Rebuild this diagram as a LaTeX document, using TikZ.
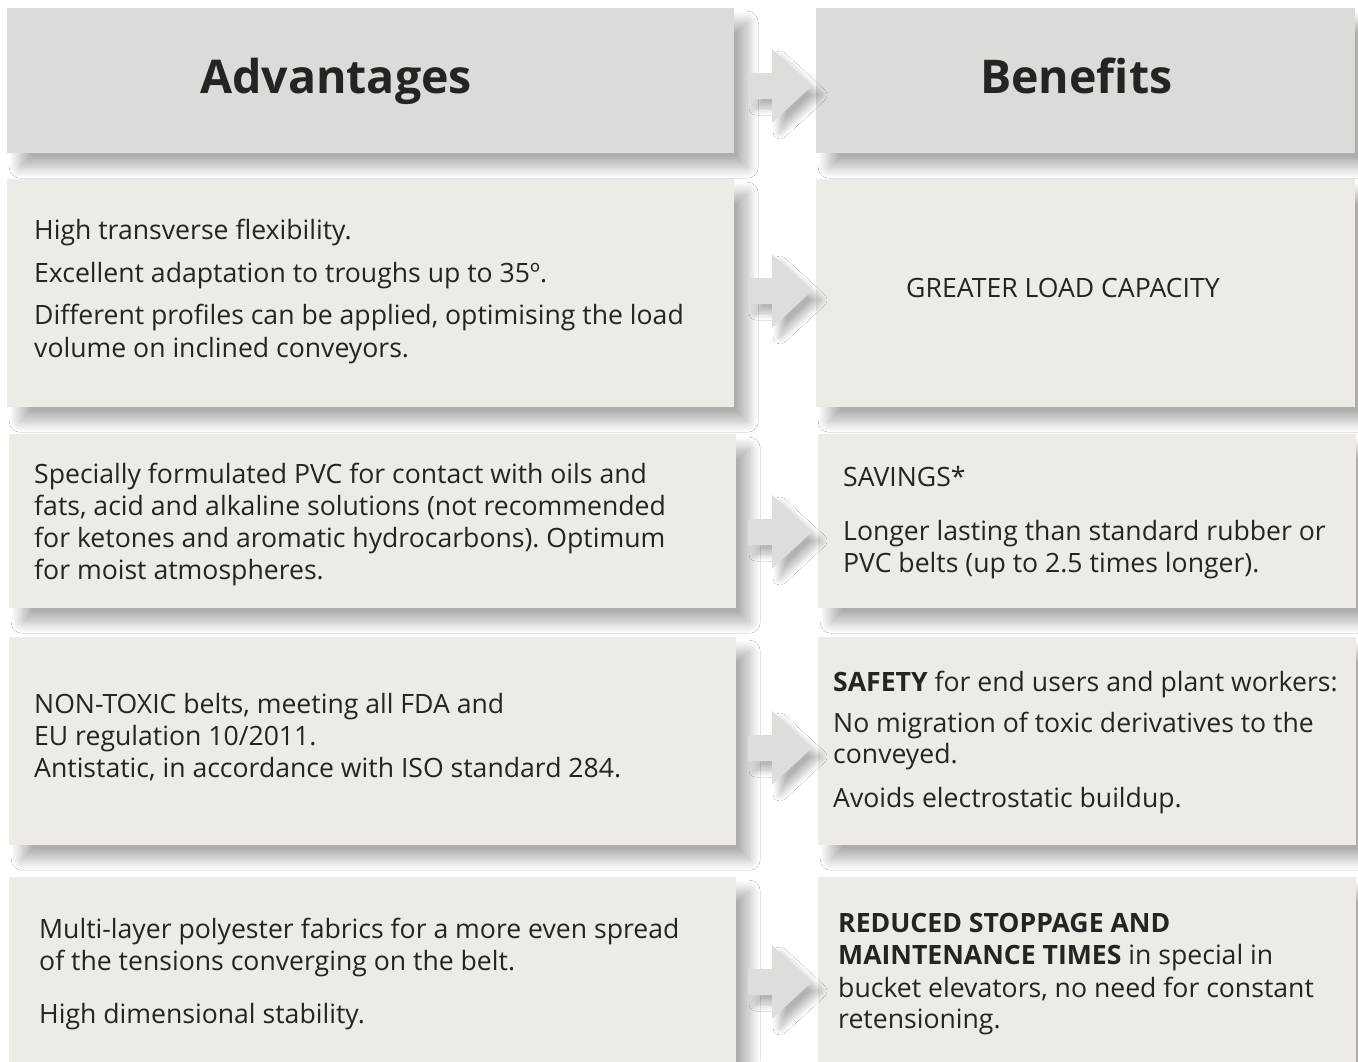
\documentclass[tikz,border=0pt]{standalone}
\usepackage{fontspec}
\setmainfont{Open Sans}
\frenchspacing
\usetikzlibrary{shadows.blur}
\definecolor{headfill}{HTML}{DCDBD8}
\definecolor{boxfill}{HTML}{EEEAE6}
\definecolor{arrfill}{HTML}{DEDDDA}
\definecolor{txt}{HTML}{262324}
\tikzset{
  softshadow/.style={blur shadow={shadow xshift=13pt,shadow yshift=-14pt,shadow blur radius=11pt,shadow blur steps=24,shadow opacity=32}},
  headbox/.style={rectangle,fill=headfill,draw=none,anchor=north west,inner sep=0,softshadow},
  infobox/.style={rectangle,fill=boxfill,draw=none,anchor=north west,inner sep=0,softshadow},
  arrowfill/.style={fill=arrfill,blur shadow={shadow xshift=8pt,shadow yshift=-9pt,shadow blur radius=7pt,shadow blur steps=18,shadow opacity=30}},
  line/.style={anchor=base west,inner sep=0,text=txt,font=\fontsize{26.6}{32}\selectfont},
  headtxt/.style={anchor=base west,inner sep=0,text=txt,font=\fontsize{46.5}{50}\selectfont\bfseries}
}
\newcommand\flowarrow[1]{\fill[arrowfill] (#1) ++(0,-13) -- ++(24,0) -- ++(0,-24) -- ++(40,37) -- ++(-40,37) -- ++(0,-24) -- ++(-24,0) -- cycle;}
\begin{document}
\begin{tikzpicture}[x=1pt,y=-1pt]
\useasboundingbox[fill=white] (0,0) rectangle (1358,1061);
% boxes
\node[headbox,minimum width=727pt,minimum height=145pt] (hL) at (7,8) {};
\node[headbox,minimum width=539pt,minimum height=145pt] (hR) at (816,8) {};
\node[infobox,minimum width=727pt,minimum height=228pt] (r1L) at (7,179) {};
\node[infobox,minimum width=539pt,minimum height=228pt] (r1R) at (816,179) {};
\node[infobox,minimum width=727pt,minimum height=174pt] (r2L) at (9,434) {};
\node[infobox,minimum width=538pt,minimum height=174pt] (r2R) at (818,434) {};
\node[infobox,minimum width=727pt,minimum height=208pt] (r3L) at (9,637) {};
\node[infobox,minimum width=538pt,minimum height=208pt] (r3R) at (818,637) {};
\node[infobox,minimum width=727pt,minimum height=200pt] (r4L) at (9,877) {};
\node[infobox,minimum width=538pt,minimum height=200pt] (r4R) at (818,877) {};
% arrows
\coordinate (a0) at (748,86);
\coordinate (a1) at (748,291);
\coordinate (a2) at (748,532);
\coordinate (a3) at (748,748);
\coordinate (a4) at (748,982);
\flowarrow{a0}
\flowarrow{a1}
\flowarrow{a2}
\flowarrow{a3}
\flowarrow{a4}
% headers
\node[headtxt] (tA) at (200,93) {Advantages};
\node[headtxt] (tB) at (980,93) {Benefits};
% row 1
\node[line] (l1a) at (34,239) {High transverse flexibility.};
\node[line] (l1b) at (34,282) {Excellent adaptation to troughs up to 35º.};
\node[line] (l1c) at (34,324) {Different profiles can be applied, optimising the load};
\node[line] (l1d) at (34,357) {volume on inclined conveyors.};
\node[line] (b1a) at (906,297) {GREATER LOAD CAPACITY};
% row 2
\node[line] (l2a) at (34,483) {Specially formulated PVC for contact with oils and};
\node[line] (l2b) at (34,515) {fats, acid and alkaline solutions (not recommended};
\node[line] (l2c) at (34,547) {for ketones and aromatic hydrocarbons). Optimum};
\node[line] (l2d) at (34,579) {for moist atmospheres.};
\node[line] (b2a) at (843,486) {SAVINGS*};
\node[line] (b2b) at (843,540) {Longer lasting than standard rubber or};
\node[line] (b2c) at (843,572) {PVC belts (up to 2.5 times longer).};
% row 3
\node[line] (l3a) at (34,713) {NON-TOXIC belts, meeting all FDA and};
\node[line] (l3b) at (34,745) {EU regulation 10/2011.};
\node[line] (l3c) at (34,777) {Antistatic, in accordance with ISO standard 284.};
\node[line] (b3a) at (833,691) {\textbf{SAFETY} for end users and plant workers:};
\node[line] (b3b) at (833,732) {No migration of toxic derivatives to the};
\node[line] (b3c) at (833,763) {conveyed.};
\node[line] (b3d) at (833,807) {Avoids electrostatic buildup.};
% row 4
\node[line] (l4a) at (39,938) {Multi-layer polyester fabrics for a more even spread};
\node[line] (l4b) at (39,970) {of the tensions converging on the belt.};
\node[line] (l4c) at (39,1023) {High dimensional stability.};
\node[line] (b4a) at (838,932) {\textbf{REDUCED STOPPAGE AND}};
\node[line] (b4b) at (838,964) {\textbf{MAINTENANCE TIMES} in special in};
\node[line] (b4c) at (838,997) {bucket elevators, no need for constant};
\node[line] (b4d) at (838,1028) {retensioning.};
\end{tikzpicture}
\end{document}
